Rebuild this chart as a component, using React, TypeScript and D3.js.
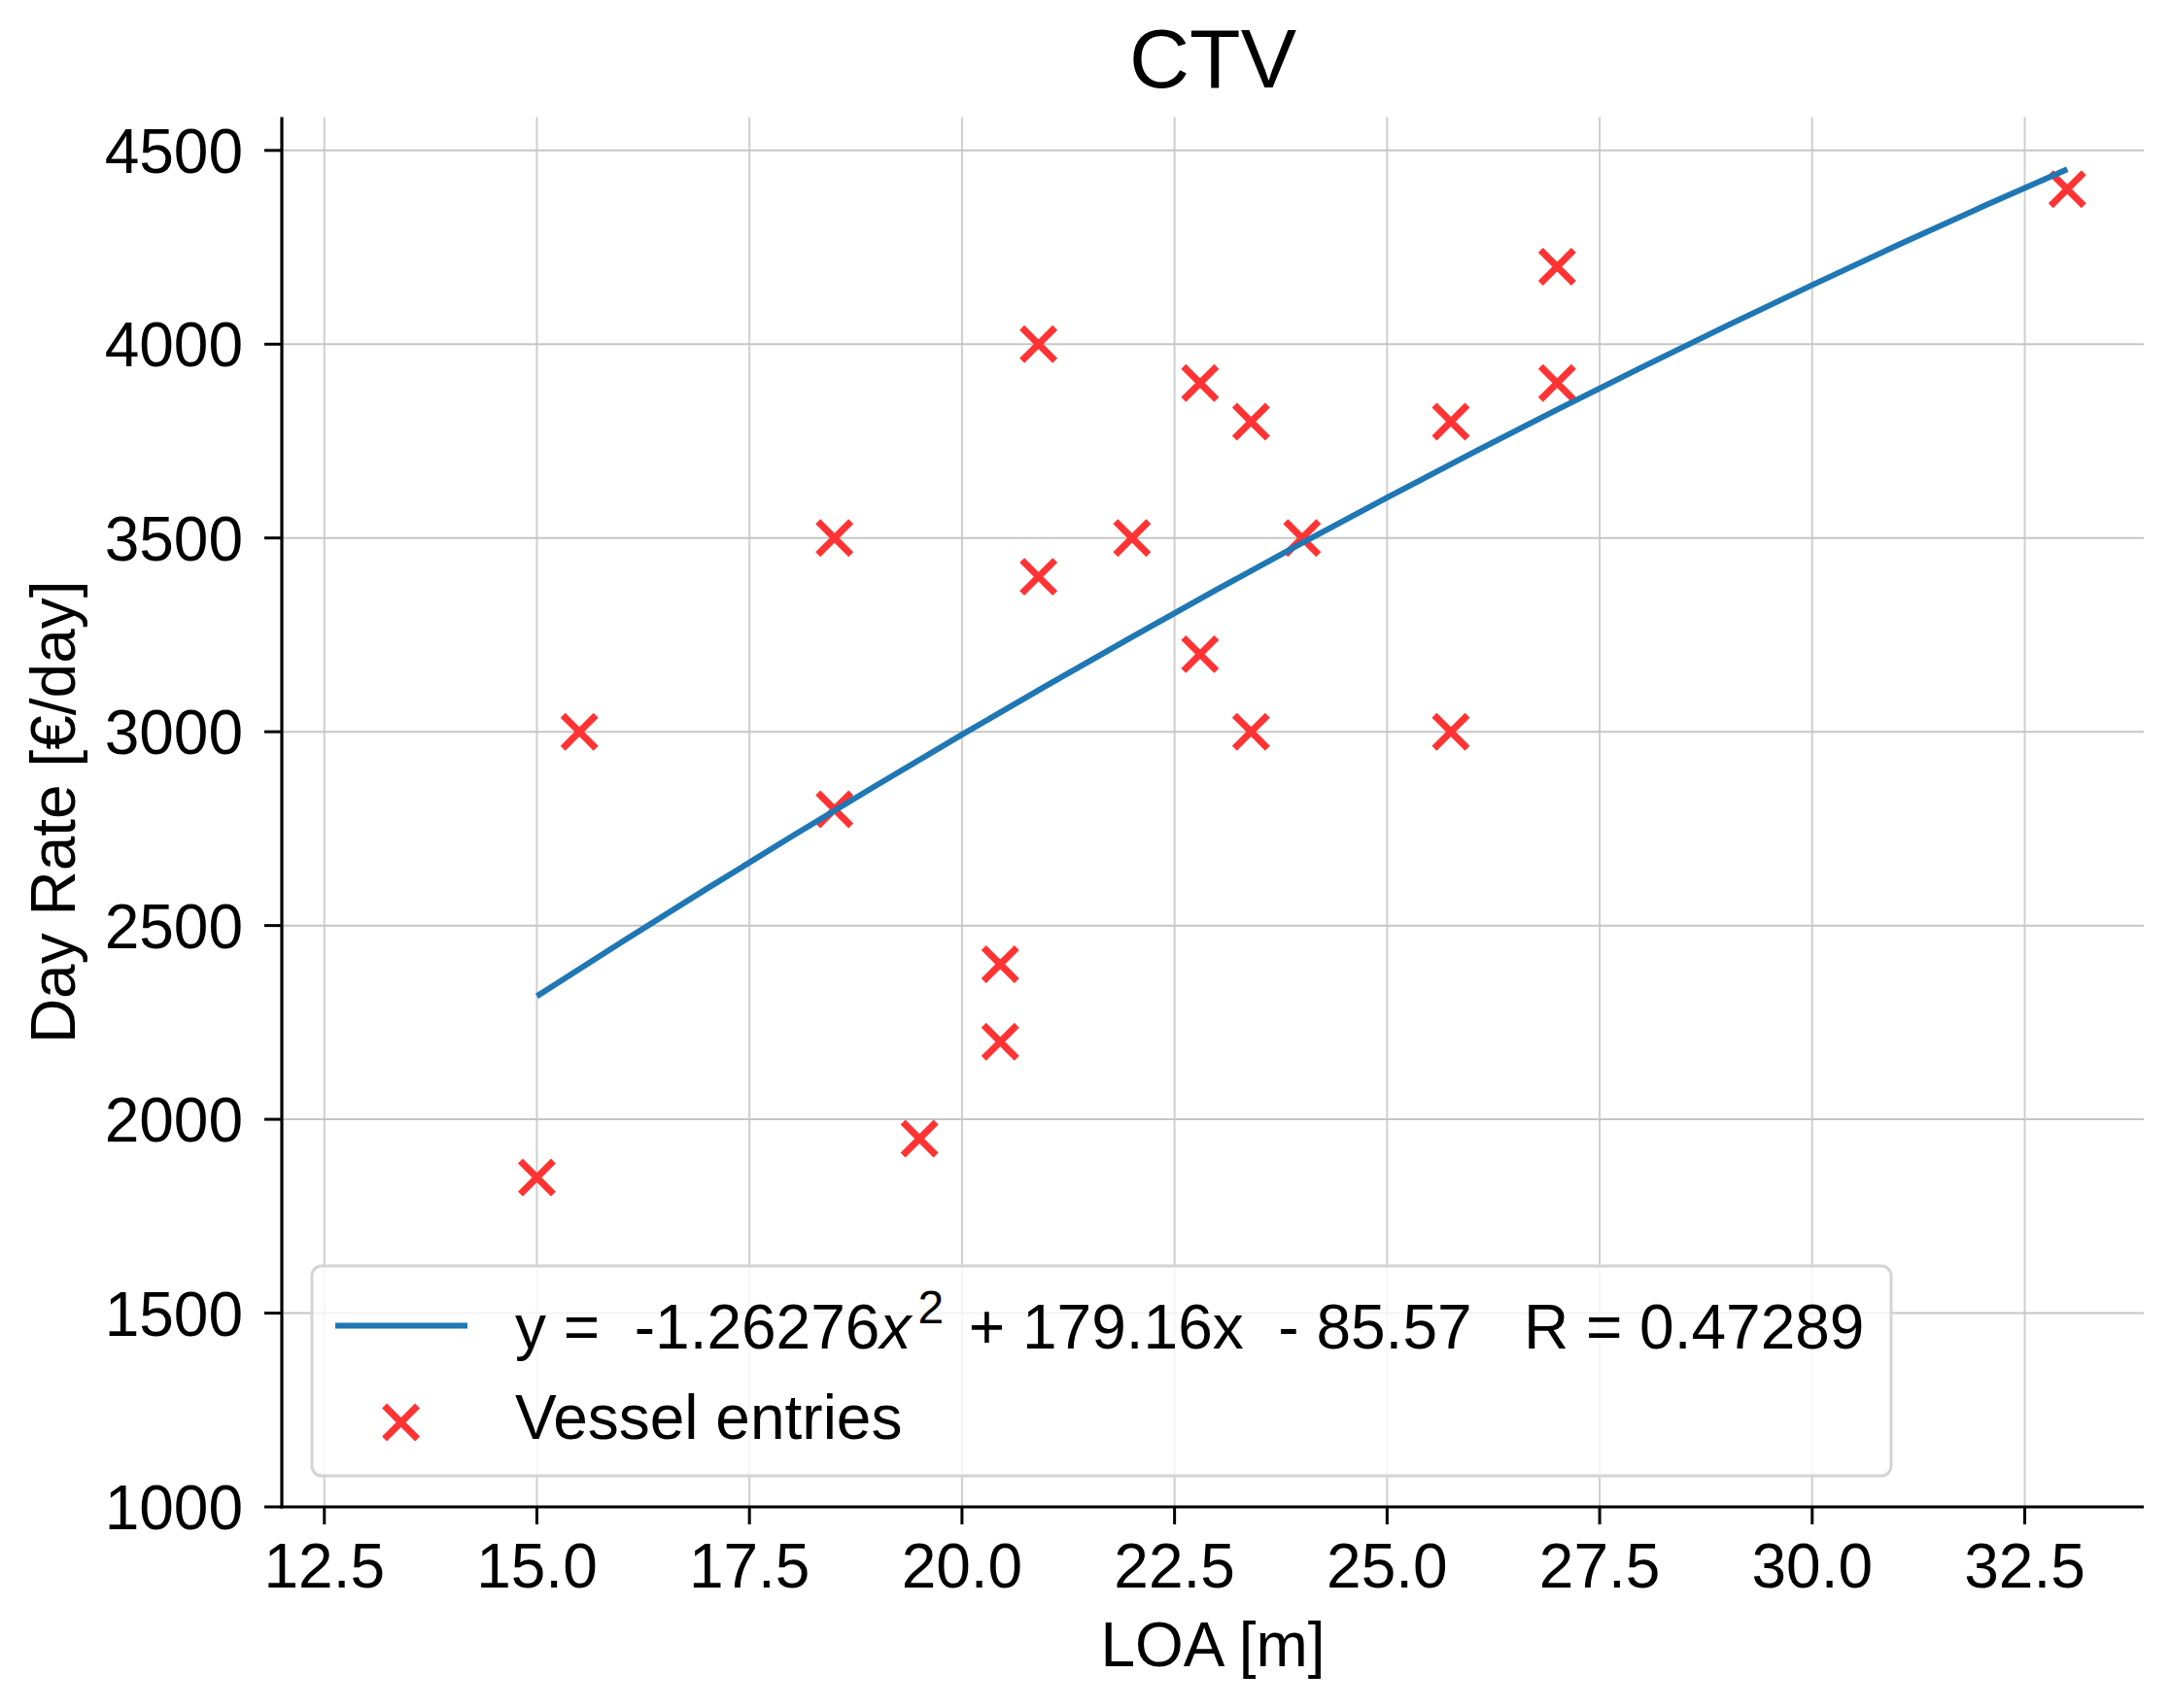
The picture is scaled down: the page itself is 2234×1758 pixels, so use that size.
import { useEffect, useRef } from 'react';
import * as d3 from 'd3';

// Vessel entries
const loa = [15.0, 15.5, 18.5, 18.5, 19.5, 20.45, 20.45, 20.9, 20.9, 22.0, 22.8, 22.8, 23.4, 23.4, 24.0, 25.75, 25.75, 27.0, 27.0, 33.0];
const dayRate = [1850, 3000, 3500, 2800, 1950, 2400, 2200, 4000, 3400, 3500, 3900, 3200, 3800, 3000, 3500, 3800, 3000, 4200, 3900, 4400];

// Fitted curve sampled at whole metres
const fitLoa = [15, 16, 17, 18, 19, 20, 21, 22, 23, 24, 25, 26, 27, 28, 29, 30, 31, 32, 33];
const fitRate = [2317.7, 2457.7, 2595.2, 2730.2, 2862.6, 2992.5, 3119.9, 3244.8, 3367.1, 3486.9, 3604.2, 3719.0, 3831.2, 3940.9, 4048.1, 4152.7, 4254.9, 4354.5, 4451.6];

const xTicks = [12.5, 15.0, 17.5, 20.0, 22.5, 25.0, 27.5, 30.0, 32.5];
const yTicks = [1000, 1500, 2000, 2500, 3000, 3500, 4000, 4500];

const title = 'CTV';
const xLabel = 'LOA [m]';
const yLabel = 'Day Rate [€/day]';
const fitLabel = ['y =  -1.26276', 'x', '2', ' + 179.16x  - 85.57   R = 0.47289'];
const pointLabel = 'Vessel entries';

const WIDTH = 2234;
const HEIGHT = 1758;
const FONT = '"Liberation Sans", Arial, Helvetica, sans-serif';
const BLUE = '#1f77b4';
const RED = '#ff3333';

export default function App() {
  const svgRef = useRef<SVGSVGElement>(null);

  useEffect(() => {
    if (!svgRef.current) return;
    const svg = d3.select(svgRef.current);
    svg.selectAll('*').remove();

    const left = 290, right = 2206, top = 120.5, bottom = 1551;

    const x = d3.scaleLinear().domain([12.0, 33.9]).range([left, right]);
    const y = d3.scaleLinear().domain([1000, 4586]).range([bottom, top]);

    svg.append('rect').attr('width', WIDTH).attr('height', HEIGHT).attr('fill', '#fff');

    // grid
    const grid = svg.append('g').attr('stroke', '#cfcfcf').attr('stroke-width', 2);
    grid.selectAll('.gx').data(xTicks).enter().append('line')
      .attr('x1', d => x(d)).attr('x2', d => x(d))
      .attr('y1', top).attr('y2', bottom);
    grid.selectAll('.gy').data(yTicks).enter().append('line')
      .attr('y1', d => y(d)).attr('y2', d => y(d))
      .attr('x1', left).attr('x2', right)
      .attr('stroke', '#c6c6c6');

    // markers
    const h = 17;
    const pts = svg.append('g').attr('stroke', RED).attr('stroke-width', 7).attr('fill', 'none');
    loa.forEach((v, i) => {
      const cx = x(v), cy = y(dayRate[i]);
      pts.append('path').attr('d', `M${cx - h},${cy - h}L${cx + h},${cy + h}M${cx - h},${cy + h}L${cx + h},${cy - h}`);
    });

    // fit curve
    const line = d3.line<number>()
      .x((d, i) => x(fitLoa[i]))
      .y(d => y(d))
      .curve(d3.curveMonotoneX);
    svg.append('path').datum(fitRate)
      .attr('d', line)
      .attr('fill', 'none')
      .attr('stroke', BLUE)
      .attr('stroke-width', 6);

    // spines
    svg.append('line').attr('x1', left).attr('x2', left).attr('y1', top).attr('y2', bottom + 1.6)
      .attr('stroke', '#000').attr('stroke-width', 3.2);
    svg.append('line').attr('x1', left - 1.6).attr('x2', right).attr('y1', bottom).attr('y2', bottom)
      .attr('stroke', '#000').attr('stroke-width', 3.2);

    // ticks and labels
    const xt = svg.append('g');
    xTicks.forEach(t => {
      xt.append('line').attr('x1', x(t)).attr('x2', x(t)).attr('y1', bottom).attr('y2', bottom + 18)
        .attr('stroke', '#000').attr('stroke-width', 3);
      xt.append('text').attr('x', x(t)).attr('y', 1634).attr('text-anchor', 'middle')
        .attr('font-family', FONT).attr('font-size', 64).text(t.toFixed(1));
    });
    const yt = svg.append('g');
    yTicks.forEach(t => {
      yt.append('line').attr('x1', left - 18).attr('x2', left).attr('y1', y(t)).attr('y2', y(t))
        .attr('stroke', '#000').attr('stroke-width', 3);
      yt.append('text').attr('x', 250).attr('y', y(t) + 23).attr('text-anchor', 'end')
        .attr('font-family', FONT).attr('font-size', 64).text(String(t));
    });

    // axis labels and title
    svg.append('text').attr('x', (left + right) / 2).attr('y', 1715).attr('text-anchor', 'middle')
      .attr('font-family', FONT).attr('font-size', 64).text(xLabel);
    svg.append('text').attr('transform', `translate(77,${(top + bottom) / 2}) rotate(-90)`)
      .attr('text-anchor', 'middle').attr('font-family', FONT).attr('font-size', 64).text(yLabel);
    svg.append('text').attr('x', (left + right) / 2).attr('y', 90).attr('text-anchor', 'middle')
      .attr('font-family', FONT).attr('font-size', 86).text(title);

    // legend
    const lg = svg.append('g');
    lg.append('rect').attr('x', 321).attr('y', 1303).attr('width', 1946 - 321).attr('height', 1519 - 1303)
      .attr('rx', 10).attr('fill', 'rgba(255,255,255,0.8)')
      .attr('stroke', '#d4d4d4').attr('stroke-width', 3);
    lg.append('line').attr('x1', 345).attr('x2', 481).attr('y1', 1364.5).attr('y2', 1364.5)
      .attr('stroke', BLUE).attr('stroke-width', 6);
    const t1 = lg.append('text').attr('x', 530).attr('y', 1388).attr('font-family', FONT)
      .attr('font-size', 64).style('white-space', 'pre');
    t1.append('tspan').text(fitLabel[0]);
    t1.append('tspan').attr('font-style', 'italic').text(fitLabel[1]);
    t1.append('tspan').attr('font-size', 48).attr('dy', -26).attr('dx', 7).text(fitLabel[2]);
    t1.append('tspan').attr('dy', 26).attr('dx', 8).text(fitLabel[3]);

    const mx = 412.6, my = 1464;
    lg.append('path').attr('d', `M${mx - h},${my - h}L${mx + h},${my + h}M${mx - h},${my + h}L${mx + h},${my - h}`)
      .attr('stroke', RED).attr('stroke-width', 7).attr('fill', 'none');
    lg.append('text').attr('x', 530).attr('y', 1481).attr('font-family', FONT)
      .attr('font-size', 64).text(pointLabel);
  }, []);

  return (
    <div style={{ position: 'absolute', left: 0, top: 0 }}>
      <svg ref={svgRef} width={WIDTH} height={HEIGHT} style={{ display: 'block' }}></svg>
    </div>
  );
}
